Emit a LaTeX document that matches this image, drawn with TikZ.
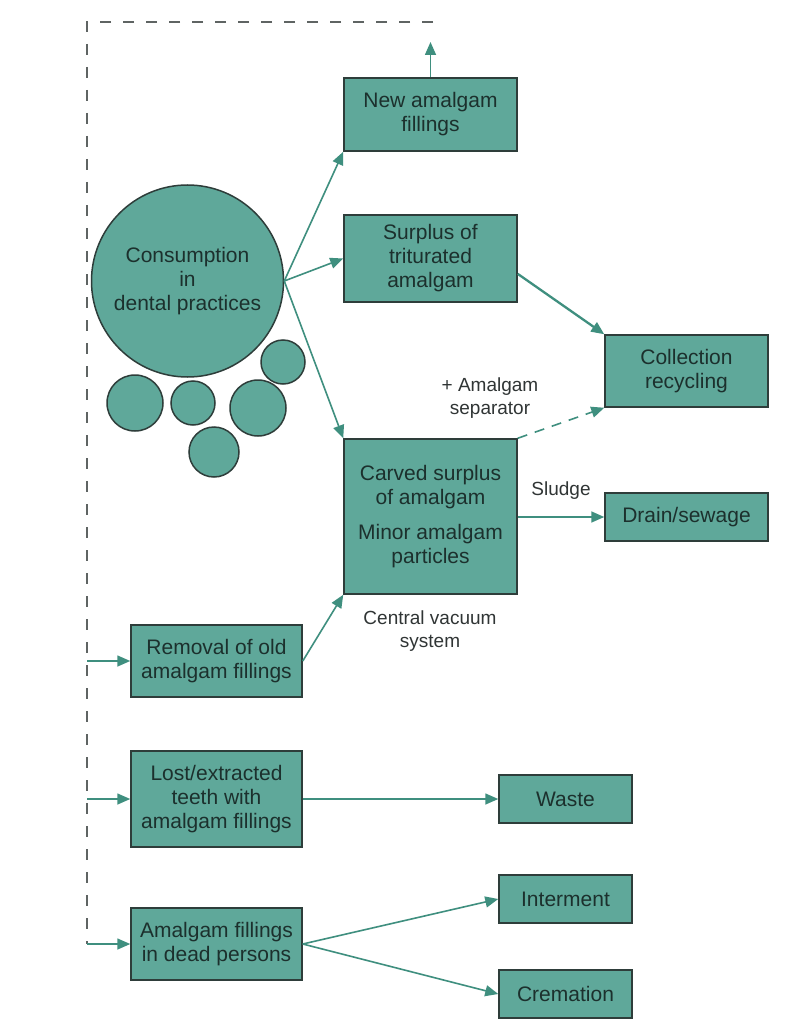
\documentclass[tikz,border=0pt]{standalone}
\usepackage{fontspec}
\setmainfont{Liberation Sans}
\usetikzlibrary{arrows.meta}
\definecolor{boxfill}{HTML}{5FA89A}
\definecolor{boxline}{HTML}{2E3D3A}
\definecolor{arrcol}{HTML}{3F8F7F}
\definecolor{txtcol}{HTML}{1C302D}
\definecolor{lblcol}{HTML}{303535}
\definecolor{dashcol}{HTML}{5F6463}
\tikzset{
  box/.style={draw=boxline, line width=1.5pt, fill=boxfill, align=center, inner sep=0pt,
    text=txtcol, font=\fontsize{21}{24}\selectfont},
  disc/.style={circle, draw=boxline, line width=1.5pt, fill=boxfill, inner sep=0pt},
  arr/.style={draw=arrcol, line width=1.6pt, -{Triangle[length=13pt,width=11pt]}},
  lbl/.style={align=center, text=lblcol, font=\fontsize{19}{23}\selectfont, inner sep=0pt},
  fb/.style={draw=dashcol, line width=1.3pt, dash pattern=on 11pt off 12pt}
}
\begin{document}
\begin{tikzpicture}[x=1pt,y=-1pt]
\useasboundingbox (0,0) rectangle (785,1019);
\fill[white] (0,0) rectangle (785,1019);

% circles
\node[disc, minimum size=192pt, text=txtcol, align=center, font=\fontsize{21}{24}\selectfont] (cons) at (187.5,281) {Consumption\\in\\dental practices};
\node[disc, minimum size=56pt] (c1) at (135,403) {};
\node[disc, minimum size=44pt] (c2) at (193,403) {};
\node[disc, minimum size=56pt] (c3) at (258,408) {};
\node[disc, minimum size=44pt] (c4) at (283,362) {};
\node[disc, minimum size=50pt] (c5) at (214,452) {};

% boxes
\node[box, minimum width=173pt, minimum height=73pt] (new) at (430.5,114.5) {New amalgam\\fillings};
\node[box, minimum width=173pt, minimum height=87pt] (sur) at (430.5,258.5) {Surplus of\\triturated\\amalgam};
\node[box, minimum width=163pt, minimum height=72pt] (col) at (686.5,371) {Collection\\recycling};
\node[box, minimum width=173pt, minimum height=155pt] (carv) at (430.5,516.5) {Carved surplus\\of amalgam\\[11pt]Minor amalgam\\particles};
\node[box, minimum width=163pt, minimum height=48pt] (drain) at (686.5,517) {Drain/sewage};
\node[box, minimum width=171pt, minimum height=72pt] (rem) at (216.5,661) {Removal of old\\amalgam fillings};
\node[box, minimum width=171pt, minimum height=96pt] (lost) at (216.5,799) {Lost/extracted\\teeth with\\amalgam fillings};
\node[box, minimum width=133pt, minimum height=48pt] (waste) at (565.5,799) {Waste};
\node[box, minimum width=171pt, minimum height=72pt] (dead) at (216.5,944) {Amalgam fillings\\in dead persons};
\node[box, minimum width=133pt, minimum height=48pt] (int) at (565.5,899) {Interment};
\node[box, minimum width=133pt, minimum height=48pt] (crem) at (565.5,994) {Cremation};

% labels
\node[lbl] (sep) at (490,398) {+ Amalgam\\separator};
\node[lbl] (sludge) at (561,491) {Sludge};
\node[lbl] (cvs) at (430,631) {Central vacuum\\system};

% feedback dashed line
\coordinate (topArr) at (430.5,42);
\coordinate (topR) at (433,22);
\coordinate (topL) at (87,22);
\coordinate (botL) at (87,944);
\coordinate (j1) at (87,661);
\coordinate (j2) at (87,799);
\coordinate (j3) at (87,944);
\draw[fb] (topR) -- (topL) -- (botL);
\draw[arr] (new.north) -- (topArr);

% arrows
\draw[arr] (cons.east) -- (new.south west);
\draw[arr] (cons.east) -- (sur.west);
\draw[arr] (cons.east) -- (carv.north west);
\draw[arr, line width=2.3pt] (sur.-10) -- (col.north west);
\draw[arr, dash pattern=on 10pt off 8pt] (carv.north east) -- (col.south west);
\draw[arr] (carv.east |- drain.west) -- (drain.west);
\draw[arr] (rem.east) -- (carv.south west);
\draw[arr] (j1) -- (rem.west);
\draw[arr] (j2) -- (lost.west);
\draw[arr] (j3) -- (dead.west);
\draw[arr] (lost.east) -- (waste.west);
\draw[arr] (dead.east) -- (int.west);
\draw[arr] (dead.east) -- (crem.west);
\end{tikzpicture}
\end{document}
